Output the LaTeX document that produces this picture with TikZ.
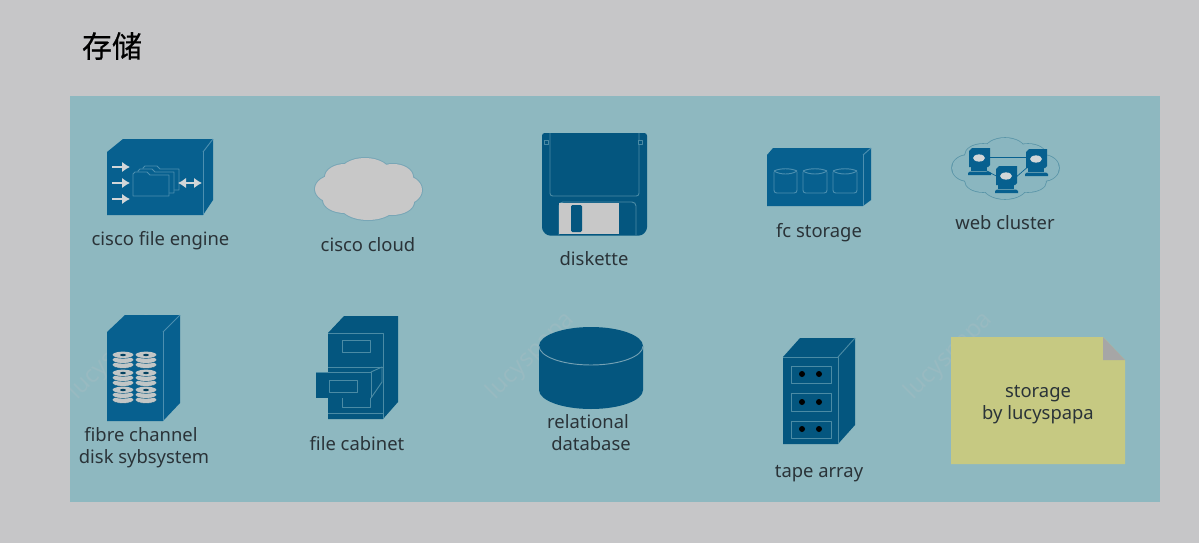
\documentclass[tikz,border=0pt]{standalone}
\usepackage{fontspec}
\setmainfont{Noto Sans}
\newfontfamily\cjkfont[FakeBold=0.5]{Noto Sans CJK SC}
\usetikzlibrary{arrows.meta}
\definecolor{pagebg}{HTML}{C6C6C8}
\definecolor{panelbg}{HTML}{8EB8C0}
\definecolor{blueA}{HTML}{07608F}
\definecolor{blueB}{HTML}{04567F}
\definecolor{edgeA}{HTML}{4C8FB0}
\definecolor{edgeB}{HTML}{4B8BA5}
\definecolor{iconwhite}{HTML}{D2D6D8}
\definecolor{diskgrey}{HTML}{C2C6C6}
\definecolor{cloudgrey}{HTML}{C8C8C8}
\definecolor{cloudedge}{HTML}{78A6B6}
\definecolor{webedge}{HTML}{5A95A8}
\definecolor{webfill}{HTML}{8AB6C0}
\definecolor{notefill}{HTML}{C6C982}
\definecolor{notefold}{HTML}{A6A6A6}
\definecolor{labeltext}{HTML}{2A3338}
\definecolor{markcol}{HTML}{98BAC1}
\tikzset{
  x=0.75pt,y=-0.75pt,
  lbl/.style={inner sep=0pt,text=labeltext,font=\fontsize{13.8}{16}\selectfont,text height=10pt,text depth=3pt,anchor=center,yshift=-1.5pt},
  wmark/.style={inner sep=0pt,text=markcol,rotate=45,font=\fontsize{18}{20}\selectfont},
  fineA/.style={draw=edgeA,line width=0.7pt,line join=round},
  fineB/.style={draw=edgeB,line width=0.7pt,line join=round},
  whitearrow/.style={draw=iconwhite,line width=1.8pt,-{Latex[length=6pt,width=8pt]}},
}
\newcommand{\diskstack}[2]{%
  \begin{scope}[shift={(#1,#2)}]
    \foreach \dy in {5,0,-5}{\fill[diskgrey] (0,\dy) ellipse[x radius=10.5,y radius=3.4];
      \draw[blueB,line width=0.3pt] (-10.5,\dy) arc[start angle=180,end angle=0,x radius=10.5,y radius=3.4];}
    \fill[blueB!75!black] (0,-5) ellipse[x radius=3,y radius=1.2];
  \end{scope}}
\newcommand{\webpc}[2]{%
  \begin{scope}[shift={(#1,#2)}]
    \fill[blueA] (-10,-9) -- (-7,-12) -- (11,-12) -- (11,5) -- (9,7) -- (-10,7) -- cycle;
    \fill[iconwhite] (0,-2) ellipse[x radius=6,y radius=3.6];
    \fill[blueA] (-8,7) rectangle (8,11);
    \fill[blueA] (-11,13) -- (-9,11.5) -- (10,11.5) -- (12,13) -- (12,15) -- (-11,15) -- cycle;
  \end{scope}}
\begin{document}
\begin{tikzpicture}
\useasboundingbox (0,0) rectangle (1199,543);
\fill[pagebg] (0,0) rectangle (1199,543);
\fill[panelbg] (70,96) rectangle (1160,502);
\node[inner sep=0pt,anchor=center,font=\cjkfont\fontsize{22.5}{26}\selectfont,text=black] (title) at (112,46) {存储};

% watermarks
\begin{scope}
\clip (70,96) rectangle (1160,502);
\node[wmark] (wm1) at (113,356) {lucyspapa};
\node[wmark] (wm2) at (531,356) {lucyspapa};
\node[wmark] (wm3) at (949,356) {lucyspapa};
\end{scope}

% cisco file engine
\fill[blueA] (107,152) -- (123,139) -- (213,139) -- (213,200) -- (203,215) -- (107,215) -- cycle;
\draw[fineA] (203,152) -- (203,215);
\draw[fineA] (203,152) -- (213,139);
\foreach \fx/\fy in {143/168,138/171,133/174}{
  \draw[fineA,fill=blueA] (\fx,\fy+22) -- (\fx,\fy) -- (\fx+2,\fy-2) -- (\fx+14,\fy-2) -- (\fx+17,\fy+1) -- (\fx+36,\fy+1) -- (\fx+36,\fy+22) -- cycle;}
\draw[whitearrow] (112,167) -- (130,167);
\draw[whitearrow] (112,183) -- (130,183);
\draw[whitearrow] (112,199) -- (130,199);
\draw[draw=iconwhite,line width=1.8pt,{Latex[length=6pt,width=8pt]}-{Latex[length=6pt,width=8pt]}] (178,183) -- (202,183);
\node[lbl] (lfile) at (160.5,239) {cisco file engine};

% cisco cloud
\foreach \cx/\cy/\rx/\ry in {368/189/42/26,335/189/20/14,402/190/20/15,345/177/20/13,365/174/26/16,393/177/20/13,345/200/22/13,368/205/28/15,392/202/22/13}{
  \fill[cloudedge] (\cx,\cy) ellipse[x radius=\rx+1,y radius=\ry+1];}
\foreach \cx/\cy/\rx/\ry in {368/189/42/26,335/189/20/14,402/190/20/15,345/177/20/13,365/174/26/16,393/177/20/13,345/200/22/13,368/205/28/15,392/202/22/13}{
  \fill[cloudgrey] (\cx,\cy) ellipse[x radius=\rx,y radius=\ry];}
\node[lbl] (lcloud) at (368,245) {cisco cloud};

% diskette
\fill[blueB,rounded corners=2pt] (542,133) -- (647,133) -- (647,230) -- (642,235.5) -- (547,235.5) -- (542,230) -- cycle;
\draw[fineB,rounded corners=2pt] (550,133) -- (550,196) -- (639,196) -- (639,133);
\draw[fineB,rounded corners=3pt] (559,235) -- (559,202) -- (636,202) -- (636,235);
\fill[cloudgrey] (559,203) rectangle (619,234);
\fill[blueB,rounded corners=1pt] (571,205) rectangle (582,232);
\draw[fineB,fill=blueB] (544.5,140) rectangle (548.5,144);
\draw[fineB,fill=blueB] (638,140) rectangle (642,144);
\node[lbl] (ldisk) at (594,259) {diskette};

% fc storage
\fill[blueA] (767,155) -- (773,148) -- (871,148) -- (871,200) -- (863,206) -- (767,206) -- cycle;
\draw[fineA] (863,155) -- (863,206);
\draw[fineA] (863,155) -- (871,148);
\foreach \ca/\cb in {774/797,803/827,833/857}{
  \draw[fineA,rounded corners=2pt] (\ca,172) -- (\ca,193) -- (\cb,193) -- (\cb,172);
  \draw[fineA] (\ca,171) .. controls (\ca+6,175) and (\cb-6,175) .. (\cb,171);
  \draw[fineA] (\ca,171) .. controls (\ca+6,168) and (\cb-6,168) .. (\cb,171);}
\node[lbl] (lfc) at (819,231) {fc storage};

% web cluster
\foreach \cx/\cy/\rx/\ry in {1005/168/44/22,968/168/16/13,1043/168/16/13,983/155/18/11,1005/150/20/12,1028/155/18/11,983/181/18/11,1005/186/22/13,1028/182/18/10}{
  \fill[webedge] (\cx,\cy) ellipse[x radius=\rx+0.8,y radius=\ry+0.8];}
\foreach \cx/\cy/\rx/\ry in {1005/168/44/22,968/168/16/13,1043/168/16/13,983/155/18/11,1005/150/20/12,1028/155/18/11,983/181/18/11,1005/186/22/13,1028/182/18/10}{
  \fill[webfill] (\cx,\cy) ellipse[x radius=\rx,y radius=\ry];}
\draw[blueA,line width=0.5pt] (980,157) -- (1030,157);
\draw[blueA,line width=0.5pt] (985,170) -- (1000,178);
\draw[blueA,line width=0.5pt] (1030,165) -- (1015,178);
\webpc{979}{160}
\webpc{1036}{161}
\webpc{1006}{178}
\node[lbl] (lweb) at (1005,223) {web cluster};

% fibre channel
\fill[blueA] (107,332) -- (125,315) -- (180,315) -- (180,403) -- (163,421) -- (107,421) -- cycle;
\draw[fineA] (163,332) -- (163,421);
\draw[fineA] (163,332) -- (180,315);
\foreach \dx in {123,146}{\foreach \dyy in {360,378,395}{\diskstack{\dx}{\dyy}}}
\node[lbl] (lfib1) at (141,435) {fibre channel};
\node[lbl] (lfib2) at (144,457) {disk sybsystem};

% file cabinet
\fill[blueB] (328,333) -- (344,316) -- (398,316) -- (398,402) -- (383,419) -- (328,419) -- cycle;
\draw[fineB] (328,333) -- (383,333) -- (383,419);
\draw[fineB] (328,367) -- (383,367);
\draw[fineB] (328,413) -- (383,413);
\draw[fineB] (342,340) rectangle (370,352);
\draw[fineB] (342,398) -- (342,407) -- (370,407) -- (370,398);
\fill[blueB] (316,372) rectangle (371,398);
\draw[fineB] (316,372) -- (371,372) -- (371,398);
\draw[fineB] (371,372) -- (382,367) -- (382,382) -- (371,398);
\draw[fineB] (329,380) rectangle (357,392);
\node[lbl] (lcab) at (357,444) {file cabinet};

% relational database
\fill[blueB] (539,346) -- (539,390) arc[start angle=180,end angle=0,x radius=52,y radius=19] -- (643,346) arc[start angle=0,end angle=-180,x radius=52,y radius=19] -- cycle;
\draw[edgeB!70!iconwhite,line width=0.7pt] (539,346) arc[start angle=180,end angle=0,x radius=52,y radius=19];
\node[lbl] (lrel1) at (588,422) {relational};
\node[lbl] (lrel2) at (591,444) {database};

% tape array
\fill[blueB] (783,357) -- (800,338) -- (855,338) -- (855,425) -- (838,444) -- (783,444) -- cycle;
\draw[fineB] (783,357) -- (838,357) -- (838,444);
\draw[fineB] (838,357) -- (855,338);
\foreach \sa/\sb/\sc in {366/383/374,393/411/402,421/438/429}{
  \draw[fineB] (791,\sa) rectangle (831,\sb);
  \fill[black] (802,\sc) circle[radius=3];
  \fill[black] (819,\sc) circle[radius=3];}
\node[lbl] (ltape) at (819,471) {tape array};

% note
\fill[notefill] (951,337) -- (1103,337) -- (1125,360) -- (1125,464) -- (951,464) -- cycle;
\fill[notefold] (1103,337) -- (1125,360) -- (1103,360) -- cycle;
\node[lbl] (lnote1) at (1038,391) {storage};
\node[lbl] (lnote2) at (1038,413) {by lucyspapa};
\end{tikzpicture}
\end{document}
